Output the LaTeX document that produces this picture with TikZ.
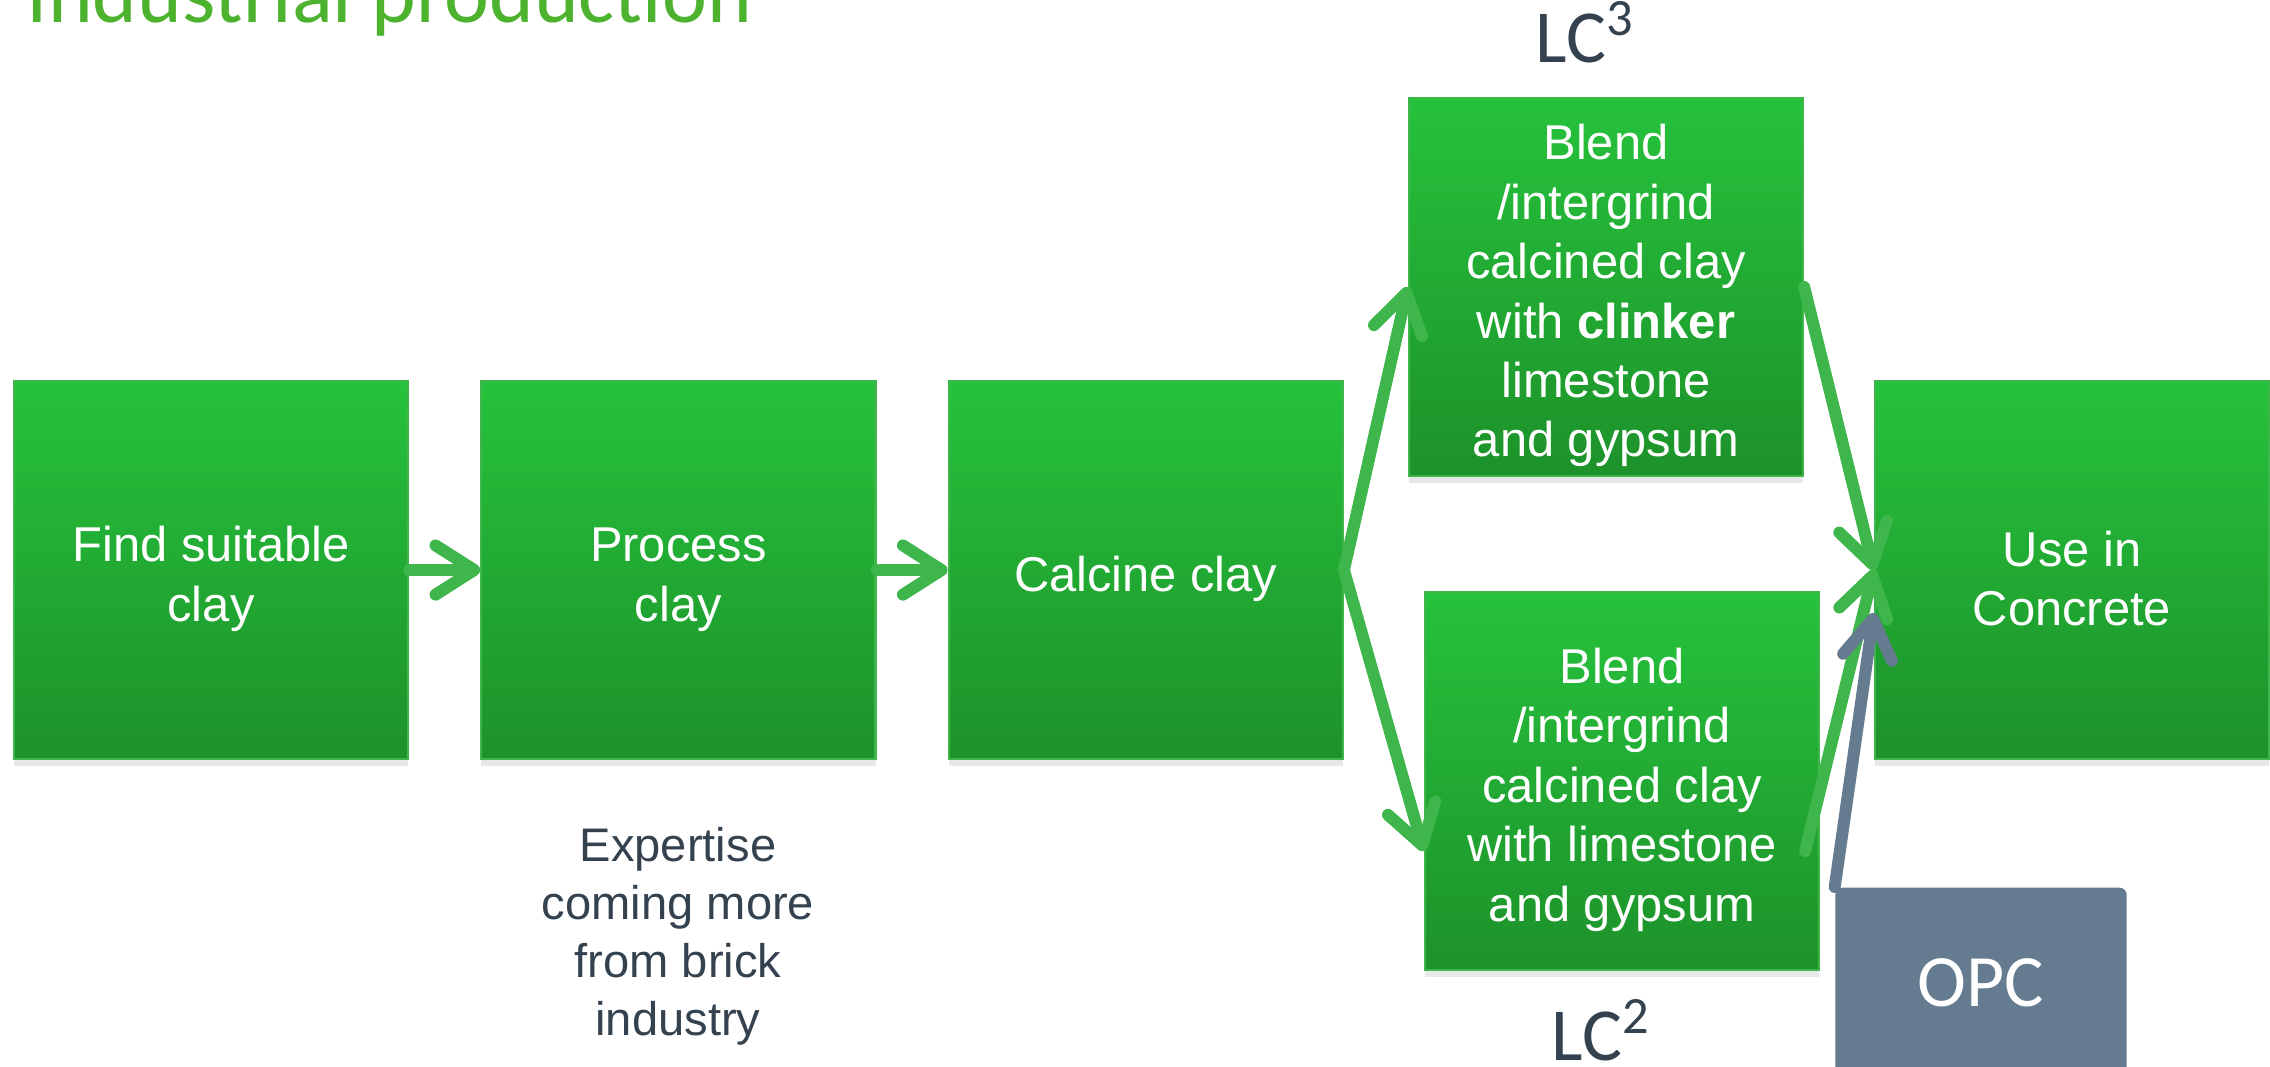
\documentclass[tikz,border=0pt]{standalone}
\usepackage{fontspec}
\setmainfont{Liberation Sans}
\newfontfamily\calibfont{Carlito}
\usetikzlibrary{positioning}
\usetikzlibrary{arrows.meta}
\usetikzlibrary{shadows}

\definecolor{boxtop}{RGB}{38,194,60}
\definecolor{boxbottom}{RGB}{29,146,42}
\definecolor{arrowgreen}{RGB}{62,182,76}
\definecolor{titlegreen}{RGB}{77,178,46}
\definecolor{opcgray}{RGB}{101,123,143}
\definecolor{labelgray}{RGB}{52,66,79}

\newcommand{\boxstrut}{\rule{0pt}{15pt}}

\tikzset{
	stepbox/.style={minimum width=3.94cm, minimum height=3.77cm, inner sep=2pt, top color=boxtop, bottom color=boxbottom, draw=arrowgreen, line width=0.6pt, text=white, align=center, font=\fontsize{13.9}{16.9}\selectfont, drop shadow={opacity=0.18, shadow xshift=0pt, shadow yshift=-2pt}},
	flow/.style={draw=arrowgreen, line width=3.4pt, line cap=round, -{Straight Barb[length=11pt, width=14pt, round]}},
	lclabel/.style={anchor=base, text=labelgray, inner sep=0pt, font=\calibfont\fontsize{21.3}{25}\selectfont},
}

\begin{document}
\begin{tikzpicture}[x=0.01cm, y=-0.01cm]
	\useasboundingbox (0,0) rectangle (2270,1066);
	\clip (0,0) rectangle (2270,1066);
	\node [anchor=base west, inner sep=0pt, text=titlegreen, font=\calibfont\fontsize{24.2}{28}\selectfont] (title) at (26,22) {Industrial production};

	\node [stepbox] (find) at (211,570) {\boxstrut Find suitable\\clay};
	\node [stepbox, right=0.71cm of find] (process) {\boxstrut Process\\clay};
	\node [stepbox, right=0.71cm of process] (calcine) {\boxstrut Calcine clay};
	\node [stepbox] (lc3) at (1606,287) {\boxstrut Blend\\/intergrind\\calcined clay\\with \textbf{clinker}\\limestone\\and gypsum};
	\node [stepbox] (lc2) at (1622,781) {\boxstrut Blend\\/intergrind\\calcined clay\\with limestone\\ and gypsum};
	\node [stepbox] (use) at (2072,570) {\boxstrut Use in\\Concrete};
	\node [anchor=north, fill=opcgray, rounded corners=2pt, minimum width=2.91cm, minimum height=1.9cm, text=white, font=\calibfont\fontsize{21}{25}\selectfont] (opc) at (1981,887) {OPC};

	\node [lclabel] (lc3label) at (1585,62) {LC\textsuperscript{3}};
	\node [lclabel] (lc2label) at (1601,1060) {LC\textsuperscript{2}};
	\node [text=labelgray, align=center, font=\fontsize{13.4}{16.5}\selectfont] (expertise) at (678,936) {Expertise\\coming more\\from brick\\industry};

	\draw [flow] (find) -- (process);
	\draw [flow] (process) -- (calcine);
	\draw [flow] (calcine.east) -- (lc3.west);
	\draw [flow] (calcine.east) -- ([yshift=-0.7cm]lc2.west);
	\draw [flow] (lc3.east) -- (use.west);
	\draw [flow] ([xshift=-0.15cm, yshift=-0.7cm]lc2.east) -- (use.west);
	\draw [flow, draw=opcgray] (opc.north west) -- ([yshift=-0.43cm]use.west);
\end{tikzpicture}
\end{document}
